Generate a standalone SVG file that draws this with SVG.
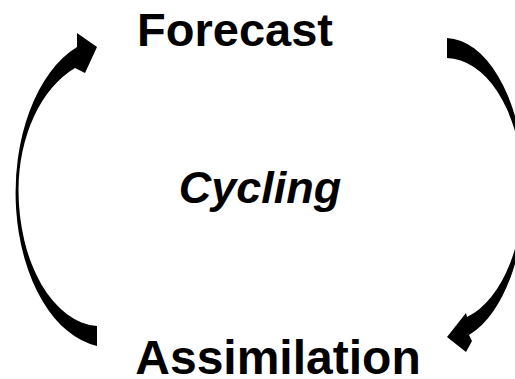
<svg xmlns="http://www.w3.org/2000/svg" width="515" height="379" viewBox="0 0 515 379">
<style>
.lbl{font-family:"Liberation Sans",Arial,sans-serif;font-weight:bold;fill:#000;text-anchor:middle}
.arr{fill:#000;stroke:none}
</style>
<rect width="515" height="379" fill="#fff"/>
<g id="connectors">
<path id="arrow-assim-forecast" class="arr" d="M97,346 A94,155 0 0 1 77,47 L77,33 L97,47 L85,73 L75,68 A91,132 0 0 0 18.5,190 A82,136 0 0 0 97,326 Z"/>
<path id="arrow-forecast-assim" class="arr" d="M447,38 A80,152 0 0 1 469,335 L472,341 L466,352 L447,337 L466,313 L467,317 A77,132 0 0 0 447,58 Z"/>
</g>
<g id="forecast"><text class="lbl" x="235" y="46" font-size="47">Forecast</text></g>
<g id="assimilation"><text class="lbl" x="278" y="374" font-size="48">Assimilation</text></g>
<g id="cycling"><text class="lbl" x="260" y="203" font-size="45" font-style="italic">Cycling</text></g>
</svg>
